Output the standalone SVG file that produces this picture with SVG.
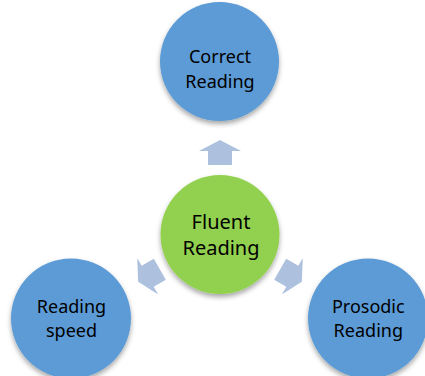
<svg xmlns="http://www.w3.org/2000/svg" width="425" height="376" viewBox="0 0 425 376">
  <defs>
    <filter id="sh" x="-20%" y="-20%" width="140%" height="150%">
      <feDropShadow dx="0" dy="3" stdDeviation="2.5" flood-color="#000" flood-opacity="0.35"/>
    </filter>
    <path id="arr" d="M220,140 L241,151 L232,151 L232,165 L208,165 L208,151 L199,151 Z"/>
  </defs>
  <style>
    .blue { fill: #5B9BD5; filter: url(#sh); }
    .green { fill: #92D050; filter: url(#sh); }
    .arrow { fill: #ADC0DE; }
    text { font-family: "Noto Sans", "Open Sans", sans-serif; fill: #000; text-anchor: middle; }
    .t { font-size: 18px; }
    .tc { font-size: 20px; }
  </style>
  <rect width="425" height="376" fill="#fff"/>
  <g id="connectors">
    <use href="#arr" class="arrow"/>
    <use href="#arr" class="arrow" transform="rotate(120 220 234.5)"/>
    <use href="#arr" class="arrow" transform="rotate(-120 220 234.5)"/>
  </g>
  <g id="correct">
    <circle class="blue" cx="219.5" cy="61.5" r="59.5"/>
    <text class="t" x="220" y="63.3">Correct</text>
    <text class="t" x="220" y="87.7">Reading</text>
  </g>
  <g id="fluent">
    <circle class="green" cx="220" cy="234.5" r="59.5"/>
    <text class="tc" x="221" y="229.3">Fluent</text>
    <text class="tc" x="221" y="255">Reading</text>
  </g>
  <g id="speed">
    <circle class="blue" cx="71" cy="318.5" r="60"/>
    <text class="t" x="71.5" y="312.7">Reading</text>
    <text class="t" x="71.5" y="336.7">speed</text>
  </g>
  <g id="prosodic">
    <circle class="blue" cx="368" cy="318.5" r="60"/>
    <text class="t" x="368.3" y="312.7">Prosodic</text>
    <text class="t" x="368.3" y="336.7">Reading</text>
  </g>
</svg>
